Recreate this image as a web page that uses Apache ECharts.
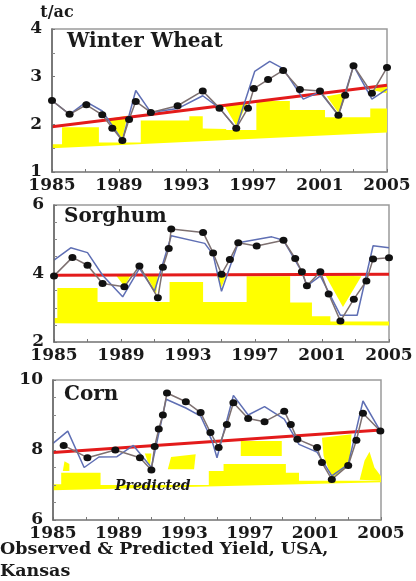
<!DOCTYPE html>
<html><head><meta charset="utf-8">
<script src="https://cdn.jsdelivr.net/npm/echarts@6/dist/echarts.min.js"></script>
<style>html,body{margin:0;padding:0;background:#fff}#c{width:416px;height:581px}</style>
</head><body><div id="c"></div>
<script>
// ---------- data (year, t/ac) ----------
const xTickYears = [1985, 1989, 1993, 1997, 2001, 2005];
const panelTitles = ['Winter Wheat', 'Sorghum', 'Corn'];
const yUnit = 't/ac';
const footText = 'Observed & Predicted Yield, USA,\nKansas';
const bandLabel = 'Predicted';

const wheatObserved = [[1985.0,2.50],[1986.05,2.21],[1987.05,2.41],[1988.0,2.20],[1988.6,1.92],[1989.2,1.66],[1989.6,2.10],[1990.0,2.48],[1990.9,2.25],[1992.5,2.39],[1994.0,2.70],[1995.0,2.34],[1996.0,1.92],[1996.7,2.34],[1997.05,2.75],[1997.9,2.94],[1998.8,3.13],[1999.8,2.73],[2001.0,2.70],[2002.1,2.19],[2002.5,2.61],[2003.0,3.23],[2004.1,2.65],[2005.0,3.19]];
const wheatModel = [[1985,2.50],[1986.05,2.21],[1987.05,2.47],[1988.0,2.28],[1989.2,1.66],[1990.0,2.71],[1990.9,2.25],[1992.5,2.33],[1994.0,2.60],[1995.0,2.34],[1996.0,1.92],[1997.1,3.11],[1998.0,3.32],[1998.8,3.17],[2000.0,2.53],[2001.0,2.68],[2002.1,2.19],[2003.0,3.23],[2004.1,2.53],[2005,2.74]];
const wheatTrend = [[1985,1.95],[2005,2.82]];
const wheatBandTop = [[1985,1.58],[1985.6,1.58],[1985.6,1.94],[1987.8,1.94],[1987.8,1.62],[1990.3,1.62],[1990.3,2.08],[1993.2,2.08],[1993.2,2.17],[1994.0,2.17],[1994.0,1.91],[1995.4,1.90],[1995.4,1.88],[1997.2,1.88],[1997.2,2.49],[1999.2,2.49],[1999.2,2.30],[2001.3,2.30],[2001.3,2.15],[2004.0,2.15],[2004.0,2.33],[2005,2.33]];
const wheatBandBottom = [[1985,1.50],[2005,1.83]];
const wheatBlobs = [
  [[1988.3,2.11],[1989.5,2.18],[1989.2,1.70]],
  [[1995.3,2.39],[1996.7,2.46],[1996.0,1.97]],
  [[2001.4,2.59],[2002.6,2.66],[2002.1,2.24]],
  [[2004.1,2.72],[2005,2.84],[2005,2.65]]
];

const sorghumObserved = [[1985.0,3.93],[1986.1,4.47],[1987.0,4.24],[1987.9,3.71],[1989.2,3.61],[1990.1,4.22],[1991.2,3.29],[1991.5,4.18],[1991.85,4.73],[1992.0,5.30],[1993.9,5.20],[1994.5,4.60],[1995.0,3.98],[1995.5,4.41],[1996.0,4.90],[1997.1,4.80],[1998.7,4.97],[1999.4,4.44],[1999.8,4.05],[2000.1,3.64],[2000.9,4.05],[2001.4,3.40],[2002.1,2.61],[2002.9,3.25],[2003.65,3.78],[2004.05,4.42],[2005,4.46]];
const sorghumModel = [[1985,4.39],[1986.0,4.75],[1987.0,4.61],[1987.9,3.95],[1989.1,3.32],[1990.1,4.15],[1991.0,3.48],[1992.0,5.10],[1994.0,4.88],[1994.5,4.55],[1995.0,3.48],[1996.0,4.90],[1998.0,5.07],[1998.7,4.97],[1999.8,4.05],[2000.1,3.64],[2000.9,3.93],[2002.1,2.78],[2003.1,2.78],[2004.05,4.81],[2005,4.75]];
const sorghumTrend = [[1985,3.95],[2005,3.98]];
const sorghumBandTop = [[1985,2.70],[1985.2,2.70],[1985.2,3.58],[1987.6,3.58],[1987.6,3.17],[1991.9,3.17],[1991.9,3.75],[1993.9,3.75],[1993.9,3.17],[1996.5,3.17],[1996.5,3.92],[1999.1,3.92],[1999.1,3.15],[2000.4,3.15],[2000.4,2.75],[2001.5,2.75],[2001.5,2.60],[2005,2.60]];
const sorghumBandBottom = [[1985,2.55],[2005,2.48]];
const sorghumBlobs = [
  [[1988.7,3.95],[1989.6,3.96],[1989.2,3.62]],
  [[1990.5,3.96],[1991.2,3.96],[1991.1,3.40]],
  [[1994.7,3.97],[1995.3,3.97],[1995.0,3.60]],
  [[2001.2,3.95],[2003.35,3.92],[2002.25,3.02]]
];

const cornObserved = [[1985.65,8.13],[1987.1,7.78],[1988.8,8.00],[1990.3,7.78],[1991.0,7.43],[1991.2,8.10],[1991.45,8.60],[1991.7,9.00],[1991.95,9.63],[1993.1,9.38],[1994.0,9.07],[1994.6,8.50],[1995.1,8.07],[1995.6,8.73],[1996.0,9.35],[1996.9,8.90],[1997.9,8.81],[1999.1,9.11],[1999.5,8.73],[1999.9,8.31],[2001.1,8.07],[2001.4,7.64],[2002.0,7.16],[2003.0,7.56],[2003.5,8.28],[2003.9,9.05],[2004.96,8.54]];
const cornModel = [[1985.0,8.19],[1985.9,8.54],[1986.9,7.50],[1987.8,7.80],[1988.9,7.81],[1989.9,8.13],[1991.0,7.50],[1991.9,9.45],[1993.1,9.20],[1994.0,8.97],[1994.7,8.26],[1995.0,7.78],[1996.0,9.56],[1996.9,9.00],[1997.9,9.24],[1999.1,8.88],[2000.0,8.16],[2001.1,7.94],[2002.0,7.26],[2003.0,7.59],[2003.9,9.40],[2004.96,8.54]];
const cornTrend = [[1985,7.93],[2005,8.57]];
const cornBandTop = [[1985,7.02],[1985.5,7.02],[1985.5,7.35],[1987.9,7.35],[1987.9,7.00],[1994.5,7.00],[1994.5,7.40],[1995.4,7.40],[1995.4,7.60],[1999.2,7.60],[1999.2,7.35],[2000.0,7.35],[2000.0,7.12],[2005,7.12]];
const cornBandBottom = [[1985,6.85],[2005,7.08]];
const cornBlobs = [
  [[1985.6,7.40],[1985.7,7.68],[1986.0,7.60],[1986.0,7.40]],
  [[1990.6,7.90],[1991.0,7.90],[1990.9,7.50]],
  [[1992.0,7.45],[1992.2,7.80],[1993.7,7.88],[1993.6,7.45]],
  [[1996.45,7.83],[1996.45,8.26],[1998.95,8.26],[1998.95,7.83]],
  [[2001.4,8.35],[2003.2,8.45],[2003.1,7.59],[2002.0,7.20],[2001.5,7.83]],
  [[2003.7,7.15],[2004.0,7.70],[2004.3,7.95],[2004.6,7.50],[2005,7.25],[2005,7.12]]
];

const yRanges = [[1,4],[2,6],[6,10]];
const yLabelSteps = [1, 2, 2];

// ---------- build ----------
const BASE = 1985;
const FONT = 'DejaVu Serif';
const toX = p => [p[0] - BASE, p[1]];

const panels = [
  {obs: wheatObserved, model: wheatModel, trend: wheatTrend, top: wheatBandTop, bottom: wheatBandBottom, blobs: wheatBlobs,
   grid: {left: 52, right: 29, top: 29, height: 143}},
  {obs: sorghumObserved, model: sorghumModel, trend: sorghumTrend, top: sorghumBandTop, bottom: sorghumBandBottom, blobs: sorghumBlobs,
   grid: {left: 54, right: 27, top: 205, height: 137}},
  {obs: cornObserved, model: cornModel, trend: cornTrend, top: cornBandTop, bottom: cornBandBottom, blobs: cornBlobs,
   grid: {left: 53, right: 35, top: 380, height: 140}}
];

const grids = [], xAxes = [], yAxes = [], series = [];
panels.forEach((p, i) => {
  grids.push(Object.assign({show: true, borderColor: '#9a9a9a', borderWidth: 1.5, backgroundColor: '#fff'}, p.grid));
  xAxes.push({
    type: 'value', gridIndex: i, min: 0, max: 20, interval: 2,
    axisLine: {lineStyle: {color: '#8a8a8a', width: 1.5}},
    axisTick: {inside: true, length: 3, lineStyle: {color: '#777'}},
    splitLine: {show: false},
    axisLabel: {
      margin: 5, color: '#1a1a1a', fontFamily: FONT, fontWeight: 'bold', fontSize: 17,
      formatter: v => xTickYears.includes(v + BASE) ? String(v + BASE) : ''
    }
  });
  const yr = yRanges[i];
  yAxes.push({
    type: 'value', gridIndex: i, min: yr[0], max: yr[1], interval: yLabelSteps[i], z: 5,
    name: i === 0 ? yUnit : '',
    nameLocation: 'end', nameGap: 6,
    nameTextStyle: {color: '#1a1a1a', fontFamily: FONT, fontWeight: 'bold', fontSize: 16, padding: [0, -10, 0, 0]},
    axisLine: {lineStyle: {color: '#666', width: 1.5}},
    axisTick: {inside: true, length: 3, lineStyle: {color: '#777'}},
    minorTick: {show: true, splitNumber: yLabelSteps[i] * 2, length: 3, lineStyle: {color: '#888'}},
    splitLine: {show: false},
    axisLabel: {margin: 10, color: '#1a1a1a', fontFamily: FONT, fontWeight: 'bold', fontSize: 17}
  });
  // yellow predicted band: main polygon plus extra patches
  const polys = [p.top.concat(p.bottom.slice().reverse())].concat(p.blobs);
  series.push({
    type: 'custom', xAxisIndex: i, yAxisIndex: i, silent: true, z: 1,
    data: polys.map(poly => toX(poly[0])),
    renderItem: (params, api) => ({
      type: 'polygon',
      shape: {points: polys[params.dataIndex].map(pt => api.coord(toX(pt)))},
      style: {fill: '#ffff00', stroke: null}
    })
  });
  series.push({type: 'line', xAxisIndex: i, yAxisIndex: i, data: p.trend.map(toX), symbol: 'none', silent: true, z: 3,
    lineStyle: {color: '#e31b1b', width: 3}});
  series.push({type: 'line', xAxisIndex: i, yAxisIndex: i, data: p.model.map(toX), symbol: 'none', silent: true, z: 4,
    lineStyle: {color: '#5f6fb4', width: 1.5}});
  series.push({type: 'line', xAxisIndex: i, yAxisIndex: i, data: p.obs.map(toX), symbol: 'circle', symbolSize: [8, 7], silent: true, z: 5,
    itemStyle: {color: '#111'}, lineStyle: {color: '#7d7070', width: 1.5}});
});

const tStyle = {fontFamily: FONT, fontWeight: 'bold', fontSize: 20, color: '#1a1a1a'};
const chart = echarts.init(document.getElementById('c'), null, {renderer: 'canvas'});
chart.setOption({
  animation: false,
  backgroundColor: '#fff',
  grid: grids, xAxis: xAxes, yAxis: yAxes, series: series,
  title: [
    {text: panelTitles[0], left: 62, top: 27, textStyle: tStyle},
    {text: panelTitles[1], left: 59, top: 202, textStyle: tStyle},
    {text: panelTitles[2], left: 59, top: 380, textStyle: tStyle},
    {text: bandLabel, left: 110, top: 474, textStyle: {fontFamily: FONT, fontWeight: 'bold', fontStyle: 'italic', fontSize: 14, color: '#1a1a1a'}},
    {text: footText, left: 0, top: 538, padding: 0, textStyle: {fontFamily: FONT, fontWeight: 'bold', fontSize: 17.5, lineHeight: 22, color: '#1a1a1a'}}
  ]
});
</script>
</body></html>
